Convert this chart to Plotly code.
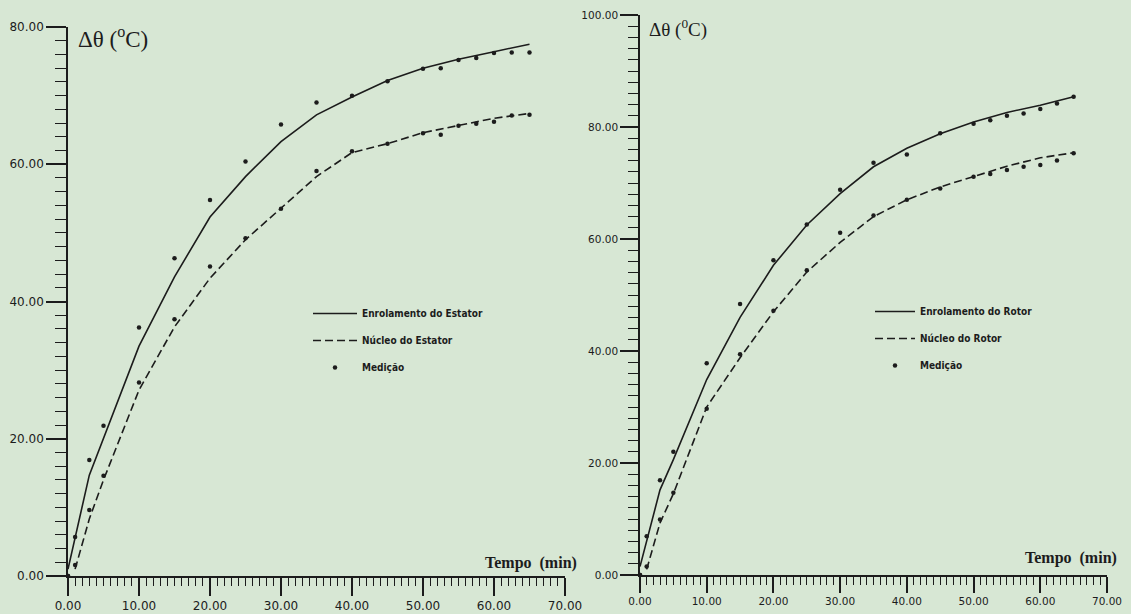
import plotly.graph_objects as go

# ---------------- data ----------------
# Left chart: stator
t_med = [0, 1, 3, 5, 10, 15, 20, 25, 30, 35, 40, 45, 50, 52.5, 55, 57.5, 60, 62.5, 65]
est_enrol_med = [0.0, 5.7, 16.9, 21.9, 36.2, 46.3, 54.8, 60.4, 65.8, 69.0, 70.0, 72.1, 73.9, 74.0, 75.2, 75.5, 76.2, 76.3, 76.3]
est_nucleo_med = [0.0, 1.6, 9.6, 14.6, 28.2, 37.4, 45.1, 49.2, 53.5, 59.0, 61.9, 63.0, 64.5, 64.3, 65.6, 65.9, 66.2, 67.1, 67.2]

t_est_enrol = [0, 3, 10, 15, 20, 25, 30, 35, 40, 45, 50, 55, 60, 65]
est_enrol = [1.0, 14.7, 33.5, 43.6, 52.3, 58.2, 63.3, 67.2, 69.8, 72.2, 74.0, 75.3, 76.4, 77.5]
t_est_nucleo = [1, 3, 5, 10, 15, 20, 25, 30, 35, 40, 45, 50, 55, 60, 65]
est_nucleo = [1.0, 8.3, 14.0, 27.1, 36.3, 43.4, 49.0, 53.6, 58.2, 61.7, 63.0, 64.6, 65.7, 66.7, 67.4]

# Right chart: rotor
rot_enrol_med = [0.0, 6.9, 16.9, 22.0, 37.8, 48.4, 56.2, 62.6, 68.8, 73.6, 75.1, 78.9, 80.6, 81.2, 82.0, 82.4, 83.2, 84.2, 85.4]
rot_nucleo_med = [0.0, 1.5, 9.9, 14.7, 29.7, 39.4, 47.2, 54.4, 61.1, 64.2, 67.0, 69.0, 71.1, 71.6, 72.3, 72.9, 73.2, 74.0, 75.3]

t_rot_enrol = [0, 3, 5, 10, 15, 20, 25, 30, 35, 40, 45, 50, 55, 60, 65]
rot_enrol = [1.5, 15.2, 20.6, 34.9, 46.0, 55.3, 62.5, 68.1, 72.9, 76.2, 78.8, 80.9, 82.6, 83.9, 85.4]
t_rot_nucleo = [1, 3, 5, 10, 15, 20, 25, 30, 35, 40, 45, 50, 55, 60, 65]
rot_nucleo = [1.0, 9.3, 14.5, 30.0, 38.8, 47.0, 54.1, 59.4, 64.0, 67.0, 69.3, 71.1, 73.0, 74.5, 75.4]

x_ticks = [0, 10, 20, 30, 40, 50, 60, 70]
y_ticks_left = [0, 20, 40, 60, 80]
y_ticks_right = [0, 20, 40, 60, 80, 100]

# ---------------- style ----------------
BG = "#d7e7d4"
INK = "#1c1c1c"
DASH = "8px,4px"

fig = go.Figure()

def add_set(xa, ya, legend, t_e, v_e, t_n, v_n, v_me, v_mn, name_e, name_n):
    fig.add_trace(go.Scatter(x=t_e, y=v_e, mode="lines", name=name_e,
                             line=dict(color=INK, width=1.6), xaxis=xa, yaxis=ya,
                             legend=legend, legendgroup=legend + "a"))
    fig.add_trace(go.Scatter(x=t_n, y=v_n, mode="lines", name=name_n,
                             line=dict(color=INK, width=1.6, dash=DASH), xaxis=xa, yaxis=ya,
                             legend=legend, legendgroup=legend + "b"))
    fig.add_trace(go.Scatter(x=t_med + t_med, y=v_me + v_mn, mode="markers", name="Medição",
                             marker=dict(color=INK, size=4.5), xaxis=xa, yaxis=ya,
                             legend=legend, legendgroup=legend + "c"))

add_set("x", "y", "legend", t_est_enrol, est_enrol, t_est_nucleo, est_nucleo,
        est_enrol_med, est_nucleo_med, "Enrolamento do Estator", "Núcleo do Estator")
add_set("x2", "y2", "legend2", t_rot_enrol, rot_enrol, t_rot_nucleo, rot_nucleo,
        rot_enrol_med, rot_nucleo_med, "Enrolamento do Rotor", "Núcleo do Rotor")

W, H = 1131, 614
def px(x):
    return x / W
def py(y):
    return 1 - y / H

def axis_common(size):
    return dict(showline=True, linecolor=INK, linewidth=1.6, mirror=False, automargin=False,
                showgrid=False, zeroline=False, ticks="outside", tickwidth=1.6,
                tickcolor=INK, tickformat=".2f",
                tickfont=dict(family="DejaVu Sans", size=size, color=INK),
                minor=dict(ticks="outside", ticklen=8, tickwidth=1.3, tickcolor=INK, showgrid=False))

xl = axis_common(12); xl.update(domain=[px(68), px(565)], range=[0, 70], tickvals=x_ticks, ticklen=18, anchor="y")
xl["minor"].update(dtick=1, tick0=0)
yl = axis_common(12); yl.update(domain=[py(576), py(27)], range=[0, 80], tickvals=y_ticks_left, ticklen=20, anchor="x")
yl["minor"].update(dtick=2, tick0=0, ticklen=11)
xr = axis_common(10.5); xr.update(domain=[px(640), px(1107)], range=[0, 70], tickvals=x_ticks, ticklen=16, anchor="y2")
xr["minor"].update(dtick=1, tick0=0)
yr = axis_common(10.5); yr.update(domain=[py(575), py(15)], range=[0, 100], tickvals=y_ticks_right, ticklen=18, anchor="x2")
yr["minor"].update(dtick=2, tick0=0, ticklen=10)

legfont = dict(family="DejaVu Sans Condensed, Liberation Sans Narrow, sans-serif", size=10, color=INK, weight="bold")

fig.update_layout(
    width=W, height=H, autosize=False,
    margin=dict(l=0, r=0, t=0, b=0, pad=0),
    paper_bgcolor=BG, plot_bgcolor=BG,
    showlegend=True,
    xaxis=xl, yaxis=yl, xaxis2=xr, yaxis2=yr,
    legend=dict(x=px(308), y=py(299), xanchor="left", yanchor="top", bgcolor="rgba(0,0,0,0)",
                font=legfont, itemwidth=44, tracegroupgap=8, traceorder="grouped"),
    legend2=dict(x=px(870), y=py(297), xanchor="left", yanchor="top", bgcolor="rgba(0,0,0,0)",
                 font=legfont, itemwidth=40, tracegroupgap=8, traceorder="grouped"),
    annotations=[
        dict(text="Δθ (<sup>o</sup>C)", x=px(76), y=py(37), xref="paper", yref="paper",
             xanchor="left", yanchor="middle", showarrow=False,
             font=dict(family="Liberation Serif", size=23, color=INK)),
        dict(text="Δθ (<sup>0</sup>C)", x=px(647), y=py(28), xref="paper", yref="paper",
             xanchor="left", yanchor="middle", showarrow=False,
             font=dict(family="Liberation Serif", size=19, color=INK)),
        dict(text="Tempo  (min)", x=px(579), y=py(563), xref="paper", yref="paper",
             xanchor="right", yanchor="middle", showarrow=False,
             font=dict(family="Liberation Serif", size=16, color=INK, weight="bold")),
        dict(text="Tempo  (min)", x=px(1119), y=py(558), xref="paper", yref="paper",
             xanchor="right", yanchor="middle", showarrow=False,
             font=dict(family="Liberation Serif", size=16, color=INK, weight="bold")),
    ],
)

fig.write_html("out.html", config={"displayModeBar": False},
               post_script="document.body.style.margin='0';document.body.style.background='" + BG + "';")
